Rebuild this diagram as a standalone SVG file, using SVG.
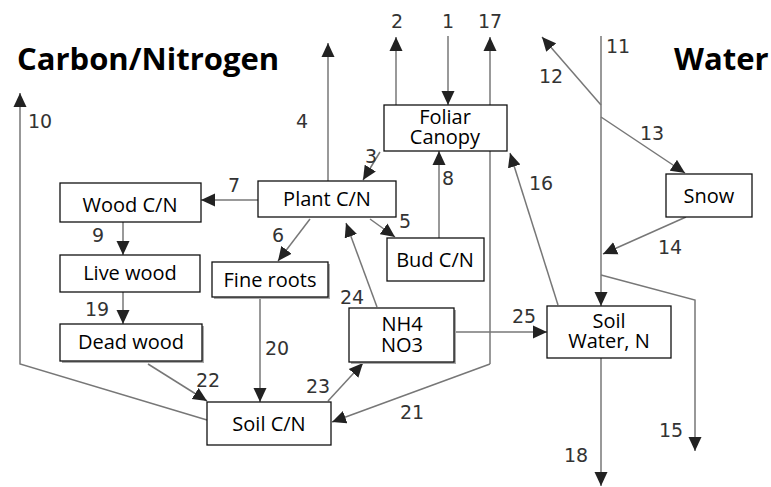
<svg xmlns="http://www.w3.org/2000/svg" width="771" height="487" viewBox="0 0 771 487">
<style>
.box{fill:#fff;stroke:#111;stroke-width:1.3}
.sh{fill:#aaa;stroke:none}
.bl{font-family:"Open Sans","Noto Sans","DejaVu Sans",sans-serif;font-size:20px;fill:#000;text-anchor:middle}
.num{font-family:"DejaVu Sans","Liberation Sans",sans-serif;font-size:19px;fill:#333;text-anchor:middle}
.title{font-family:"Open Sans","Noto Sans",sans-serif;font-size:31px;font-weight:bold;fill:#000}
.c{fill:none;stroke:#777;stroke-width:1.5;marker-end:url(#ah)}
</style>
<defs>
<marker id="ah" markerUnits="userSpaceOnUse" markerWidth="14" markerHeight="14" viewBox="0 0 14 14" refX="14" refY="7" orient="auto">
<path d="M0,0.5 L14,7 L0,13.5 z" fill="#222"/>
</marker>
</defs>
<rect width="771" height="487" fill="#fff"/>
<text class="title" x="17" y="70">Carbon/Nitrogen</text>
<text class="title" x="674" y="70">Water</text>
<g id="connectors">
<path class="c" d="M448,36 L448,105"/>
<path class="c" d="M396,105 L396,37"/>
<path class="c" d="M490,364 L490,37"/>
<path class="c" d="M490,364 L332,422"/>
<path class="c" d="M328,181 L328,43"/>
<path class="c" d="M207,420 L20,364 L20,93"/>
<path class="c" d="M380,152 L363,180"/>
<path class="c" d="M258,200 L201,200"/>
<path class="c" d="M123,222 L123,255"/>
<path class="c" d="M123,292 L123,324"/>
<path class="c" d="M310,219 L278,261"/>
<path class="c" d="M370,219 L395,237"/>
<path class="c" d="M439,238 L439,151"/>
<path class="c" d="M558,305 L510,153"/>
<path class="c" d="M601,36 L601,306"/>
<path class="c" d="M601,105 L542,37"/>
<path class="c" d="M601,117 L685,173"/>
<path class="c" d="M686,217 L603,254"/>
<path class="c" d="M601,275 L695,300 L695,451"/>
<path class="c" d="M601,358 L601,486"/>
<path class="c" d="M454,332 L547,332"/>
<path class="c" d="M377,307 L346,223"/>
<path class="c" d="M328,401 L363,363"/>
<path class="c" d="M148,364 L207,401"/>
<path class="c" d="M260,297 L260,402"/>
</g>
<g id="labels">
<text class="num" x="448" y="28">1</text>
<text class="num" x="397" y="28">2</text>
<text class="num" x="490" y="28">17</text>
<text class="num" x="302" y="128">4</text>
<text class="num" x="40" y="128">10</text>
<text class="num" x="371" y="163">3</text>
<text class="num" x="234" y="192">7</text>
<text class="num" x="98" y="242">9</text>
<text class="num" x="278" y="242">6</text>
<text class="num" x="405" y="228">5</text>
<text class="num" x="448" y="185">8</text>
<text class="num" x="541" y="190">16</text>
<text class="num" x="618" y="53">11</text>
<text class="num" x="551" y="83">12</text>
<text class="num" x="652" y="140">13</text>
<text class="num" x="670" y="254">14</text>
<text class="num" x="671" y="437">15</text>
<text class="num" x="576" y="462">18</text>
<text class="num" x="97" y="316">19</text>
<text class="num" x="277" y="355">20</text>
<text class="num" x="412" y="419">21</text>
<text class="num" x="208" y="387">22</text>
<text class="num" x="318" y="393">23</text>
<text class="num" x="352" y="304">24</text>
<text class="num" x="524" y="323">25</text>
</g>
<g id="foliar"><rect class="box" x="384" y="105" width="123" height="46"/><text class="bl" x="445" y="124">Foliar</text><text class="bl" x="445" y="144">Canopy</text></g>
<g id="plant"><rect class="box" x="258" y="181" width="138" height="36"/><text class="bl" x="327" y="206">Plant C/N</text></g>
<g id="wood"><rect class="box" x="60" y="183" width="141" height="39"/><text class="bl" x="130" y="212">Wood C/N</text></g>
<g id="livewood"><rect class="box" x="60" y="255" width="140" height="37"/><text class="bl" x="130" y="280">Live wood</text></g>
<g id="deadwood"><rect class="sh" x="62" y="326" width="142" height="37"/><rect class="box" x="60" y="324" width="142" height="37"/><text class="bl" x="131" y="349">Dead wood</text></g>
<g id="fineroots"><rect class="sh" x="214" y="264" width="116" height="35"/><rect class="box" x="212" y="262" width="116" height="35"/><text class="bl" x="270" y="287">Fine roots</text></g>
<g id="bud"><rect class="box" x="387" y="238" width="97" height="43"/><text class="bl" x="435" y="267">Bud C/N</text></g>
<g id="nh4"><rect class="sh" x="351" y="310" width="105" height="54"/><rect class="box" x="349" y="308" width="105" height="54"/><text class="bl" x="402" y="331">NH4</text><text class="bl" x="402" y="352">NO3</text></g>
<g id="soilcn"><rect class="box" x="207" y="402" width="124" height="43"/><text class="bl" x="269" y="431">Soil C/N</text></g>
<g id="snow"><rect class="box" x="666" y="174" width="86" height="43"/><text class="bl" x="709" y="203">Snow</text></g>
<g id="soilwater"><rect class="box" x="547" y="306" width="124" height="52"/><text class="bl" x="609" y="328">Soil</text><text class="bl" x="609" y="348">Water, N</text></g>
</svg>
